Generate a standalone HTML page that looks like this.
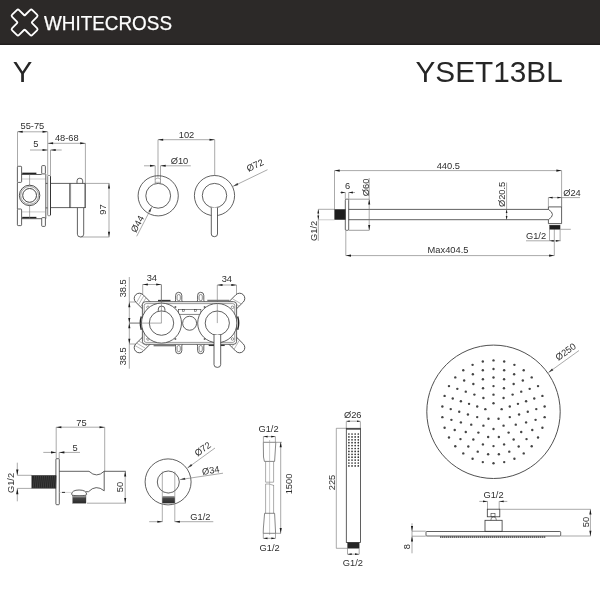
<!DOCTYPE html>
<html><head><meta charset="utf-8"><style>
html,body{margin:0;padding:0;background:#fff;width:600px;height:600px;overflow:hidden}
svg{display:block;will-change:transform}
text{font-family:"Liberation Sans",sans-serif}
</style></head><body>
<svg width="600" height="600" viewBox="0 0 600 600">
<rect width="600" height="600" fill="#fff"/>
<rect x="0" y="0" width="600" height="45" fill="#2c2928"/><rect x="0" y="43.6" width="600" height="1.2" fill="#1f1c1c"/>
<path d="M-4.90,-12.70 Q-4.90,-14.30 -3.30,-14.30 L3.30,-14.30 Q4.90,-14.30 4.90,-12.70 L4.90,-5.70 Q4.90,-4.90 5.70,-4.90 L12.70,-4.90 Q14.30,-4.90 14.30,-3.30 L14.30,3.30 Q14.30,4.90 12.70,4.90 L5.70,4.90 Q4.90,4.90 4.90,5.70 L4.90,12.70 Q4.90,14.30 3.30,14.30 L-3.30,14.30 Q-4.90,14.30 -4.90,12.70 L-4.90,5.70 Q-4.90,4.90 -5.70,4.90 L-12.70,4.90 Q-14.30,4.90 -14.30,3.30 L-14.30,-3.30 Q-14.30,-4.90 -12.70,-4.90 L-5.70,-4.90 Q-4.90,-4.90 -4.90,-5.70 Z" transform="translate(24.6 22.5) rotate(45)" fill="none" stroke="#fff" stroke-width="1.8" stroke-linejoin="round"/>
<text x="44" y="29.8" font-size="20.5" fill="#fff" stroke="#fff" stroke-width="0.25" textLength="128" lengthAdjust="spacingAndGlyphs">WHITECROSS</text>
<text x="12.8" y="82.1" font-size="29.8" fill="#262626" textLength="19.6" lengthAdjust="spacingAndGlyphs">Y</text>
<text x="415.5" y="82.1" font-size="29.8" fill="#262626" textLength="147.2" lengthAdjust="spacingAndGlyphs">YSET13BL</text>
<text x="32.40" y="128.70" font-size="9.3" text-anchor="middle" fill="#2e2e2e" >55-75</text>
<line x1="17.50" y1="131.80" x2="47.70" y2="131.80" stroke="#707070" stroke-width="0.6" />
<path d="M17.50,131.80 L22.70,130.75 L22.70,132.85 Z" fill="#1a1a1a"/>
<path d="M47.70,131.80 L42.50,132.85 L42.50,130.75 Z" fill="#1a1a1a"/>
<line x1="17.50" y1="131.80" x2="17.50" y2="166.30" stroke="#707070" stroke-width="0.6" />
<line x1="47.70" y1="131.80" x2="47.70" y2="175.50" stroke="#707070" stroke-width="0.6" />
<text x="66.80" y="140.80" font-size="9.3" text-anchor="middle" fill="#2e2e2e" >48-68</text>
<line x1="47.90" y1="143.30" x2="85.40" y2="143.30" stroke="#707070" stroke-width="0.6" />
<path d="M47.90,143.30 L53.10,142.25 L53.10,144.35 Z" fill="#1a1a1a"/>
<path d="M85.40,143.30 L80.20,144.35 L80.20,142.25 Z" fill="#1a1a1a"/>
<line x1="85.40" y1="143.30" x2="85.40" y2="183.40" stroke="#707070" stroke-width="0.6" />
<text x="35.80" y="147.00" font-size="9.3" text-anchor="middle" fill="#2e2e2e" >5</text>
<line x1="30.00" y1="150.00" x2="47.70" y2="150.00" stroke="#707070" stroke-width="0.6" />
<path d="M47.70,150.00 L42.50,151.05 L42.50,148.95 Z" fill="#1a1a1a"/>
<line x1="50.50" y1="150.00" x2="61.70" y2="150.00" stroke="#707070" stroke-width="0.6" />
<path d="M50.50,150.00 L55.70,148.95 L55.70,151.05 Z" fill="#1a1a1a"/>
<line x1="50.50" y1="150.00" x2="50.50" y2="175.50" stroke="#707070" stroke-width="0.6" />
<rect x="17.40" y="166.30" width="4.20" height="16.10" rx="0.8" fill="none" stroke="#383838" stroke-width="0.8"/>
<rect x="17.40" y="209.00" width="4.20" height="16.60" rx="0.8" fill="none" stroke="#383838" stroke-width="0.8"/>
<line x1="17.40" y1="182.40" x2="17.40" y2="209.00" stroke="#383838" stroke-width="0.8" />
<rect x="41.70" y="165.60" width="3.70" height="8.30" rx="0.8" fill="none" stroke="#383838" stroke-width="0.8"/>
<rect x="41.70" y="217.60" width="3.70" height="8.80" rx="0.8" fill="none" stroke="#383838" stroke-width="0.8"/>
<line x1="21.60" y1="174.50" x2="41.70" y2="174.50" stroke="#383838" stroke-width="0.8" />
<line x1="22.20" y1="173.40" x2="36.40" y2="173.40" stroke="#222" stroke-width="1.5" />
<line x1="21.60" y1="179.00" x2="45.80" y2="179.00" stroke="#999" stroke-width="0.5" />
<line x1="45.80" y1="174.00" x2="45.80" y2="218.70" stroke="#383838" stroke-width="0.8" />
<line x1="21.60" y1="218.70" x2="41.70" y2="218.70" stroke="#383838" stroke-width="0.8" />
<line x1="22.20" y1="217.60" x2="36.40" y2="217.60" stroke="#222" stroke-width="1.5" />
<line x1="21.60" y1="211.90" x2="45.80" y2="211.90" stroke="#999" stroke-width="0.5" />
<line x1="29.60" y1="174.50" x2="29.60" y2="185.20" stroke="#707070" stroke-width="0.6" />
<line x1="29.60" y1="205.60" x2="29.60" y2="218.70" stroke="#707070" stroke-width="0.6" />
<circle cx="29.60" cy="195.40" r="10.20" fill="none" stroke="#383838" stroke-width="0.9"/>
<circle cx="29.60" cy="195.40" r="8.90" fill="none" stroke="#666" stroke-width="0.6"/>
<circle cx="29.60" cy="195.40" r="6.90" fill="none" stroke="#383838" stroke-width="0.95"/>
<line x1="45.80" y1="183.40" x2="47.70" y2="183.40" stroke="#383838" stroke-width="0.8" />
<line x1="45.80" y1="207.90" x2="47.70" y2="207.90" stroke="#383838" stroke-width="0.8" />
<rect x="47.70" y="175.50" width="2.80" height="40.20" rx="0.8" fill="none" stroke="#666" stroke-width="0.8"/>
<line x1="50.50" y1="176.30" x2="50.50" y2="215.00" stroke="#2a2a2a" stroke-width="0.9" />
<line x1="50.50" y1="183.40" x2="85.40" y2="183.40" stroke="#383838" stroke-width="0.8" />
<line x1="50.50" y1="207.60" x2="85.40" y2="207.60" stroke="#383838" stroke-width="0.8" />
<line x1="69.70" y1="183.40" x2="69.70" y2="207.90" stroke="#383838" stroke-width="0.8" />
<line x1="70.60" y1="183.40" x2="70.60" y2="207.90" stroke="#383838" stroke-width="0.5" />
<line x1="85.40" y1="183.40" x2="85.40" y2="207.90" stroke="#383838" stroke-width="0.8" />
<line x1="84.60" y1="183.40" x2="84.60" y2="207.90" stroke="#383838" stroke-width="0.4" />
<path d="M77,183.4 L77,180.8 A2.85,2.6 0 0 1 82.7,180.8 L82.7,183.4" fill="none" stroke="#383838" stroke-width="0.8" />
<path d="M77.4,207.9 L77.4,234.2 A3.15,2.8 0 0 0 83.7,234.2 L83.7,207.9" fill="none" stroke="#383838" stroke-width="0.8" />
<line x1="85.40" y1="183.40" x2="109.40" y2="183.40" stroke="#707070" stroke-width="0.6" />
<line x1="80.50" y1="237.00" x2="109.40" y2="237.00" stroke="#707070" stroke-width="0.6" />
<line x1="109.00" y1="183.40" x2="109.00" y2="237.00" stroke="#707070" stroke-width="0.6" />
<path d="M109.00,183.40 L110.05,188.60 L107.95,188.60 Z" fill="#1a1a1a"/>
<path d="M109.00,237.00 L107.95,231.80 L110.05,231.80 Z" fill="#1a1a1a"/>
<text x="102.50" y="209.50" font-size="9.3" text-anchor="middle" fill="#2e2e2e" transform="rotate(-90 102.50 209.50)" dominant-baseline="central">97</text>
<text x="186.50" y="137.50" font-size="9.3" text-anchor="middle" fill="#2e2e2e" >102</text>
<line x1="158.00" y1="139.70" x2="214.70" y2="139.70" stroke="#707070" stroke-width="0.6" />
<path d="M158.00,139.70 L163.20,138.65 L163.20,140.75 Z" fill="#1a1a1a"/>
<path d="M214.70,139.70 L209.50,140.75 L209.50,138.65 Z" fill="#1a1a1a"/>
<line x1="158.00" y1="139.70" x2="158.00" y2="177.50" stroke="#707070" stroke-width="0.6" />
<line x1="214.70" y1="139.70" x2="214.70" y2="175.50" stroke="#707070" stroke-width="0.6" />
<text x="179.50" y="164.20" font-size="9.3" text-anchor="middle" fill="#2e2e2e" >Ø10</text>
<line x1="144.00" y1="165.80" x2="155.20" y2="165.80" stroke="#707070" stroke-width="0.6" />
<path d="M155.20,165.80 L150.00,166.85 L150.00,164.75 Z" fill="#1a1a1a"/>
<line x1="160.50" y1="165.80" x2="190.80" y2="165.80" stroke="#707070" stroke-width="0.6" />
<path d="M160.50,165.80 L165.70,164.75 L165.70,166.85 Z" fill="#1a1a1a"/>
<line x1="155.20" y1="165.80" x2="155.20" y2="183.50" stroke="#707070" stroke-width="0.6" />
<line x1="160.50" y1="165.80" x2="160.50" y2="183.50" stroke="#707070" stroke-width="0.6" />
<path d="M155.2,179.8 Q155.2,178.2 157.85,178.2 Q160.5,178.2 160.5,179.8" fill="none" stroke="#777" stroke-width="0.5" />
<line x1="155.20" y1="182.30" x2="160.50" y2="182.30" stroke="#707070" stroke-width="0.5" />
<circle cx="158.20" cy="195.80" r="20.10" fill="none" stroke="#383838" stroke-width="0.8"/>
<circle cx="158.20" cy="195.80" r="12.40" fill="none" stroke="#383838" stroke-width="0.8"/>
<path d="M151.70,207.20 L150.21,212.29 L148.35,211.32 Z" fill="#1a1a1a"/>
<line x1="151.70" y1="207.20" x2="136.70" y2="236.30" stroke="#707070" stroke-width="0.6" />
<text x="140.20" y="225.50" font-size="9.3" text-anchor="middle" fill="#2e2e2e" transform="rotate(-62.3 140.20 225.50)" >Ø44</text>
<circle cx="214.50" cy="195.60" r="20.10" fill="none" stroke="#383838" stroke-width="0.8"/>
<circle cx="214.50" cy="195.60" r="12.20" fill="none" stroke="#383838" stroke-width="0.8"/>
<path d="M211.3,207.6 L211.3,234 A3.1,2.7 0 0 0 217.5,234 L217.5,207.6" fill="#fff" stroke="#383838" stroke-width="0.8" />
<path d="M233.20,186.30 L237.43,183.10 L238.34,184.99 Z" fill="#1a1a1a"/>
<line x1="233.20" y1="186.30" x2="267.50" y2="169.70" stroke="#707070" stroke-width="0.6" />
<text x="256.50" y="168.20" font-size="9.3" text-anchor="middle" fill="#2e2e2e" transform="rotate(-25.7 256.50 168.20)" >Ø72</text>
<text x="448.30" y="169.00" font-size="9.3" text-anchor="middle" fill="#2e2e2e" >440.5</text>
<line x1="334.50" y1="170.60" x2="561.60" y2="170.60" stroke="#707070" stroke-width="0.6" />
<path d="M334.50,170.60 L339.70,169.55 L339.70,171.65 Z" fill="#1a1a1a"/>
<path d="M561.60,170.60 L556.40,171.65 L556.40,169.55 Z" fill="#1a1a1a"/>
<line x1="334.50" y1="170.60" x2="334.50" y2="209.30" stroke="#707070" stroke-width="0.6" />
<line x1="561.60" y1="170.60" x2="561.60" y2="206.90" stroke="#707070" stroke-width="0.6" />
<rect x="334.50" y="209.30" width="11.00" height="10.40" rx="0" fill="#1e1e1e" stroke="#383838" stroke-width="0.3"/>
<rect x="345.30" y="199.20" width="3.40" height="31.10" rx="1" fill="none" stroke="#383838" stroke-width="0.8"/>
<line x1="348.70" y1="199.20" x2="369.20" y2="199.20" stroke="#777" stroke-width="0.7" />
<line x1="348.70" y1="230.30" x2="369.20" y2="230.30" stroke="#777" stroke-width="0.7" />
<line x1="348.70" y1="209.40" x2="548.40" y2="209.40" stroke="#383838" stroke-width="0.8" />
<line x1="348.70" y1="219.70" x2="548.40" y2="219.70" stroke="#383838" stroke-width="0.8" />
<text x="347.50" y="188.80" font-size="9.3" text-anchor="middle" fill="#2e2e2e" >6</text>
<line x1="340.00" y1="192.50" x2="345.30" y2="192.50" stroke="#707070" stroke-width="0.6" />
<path d="M345.30,192.50 L341.10,193.40 L341.10,191.60 Z" fill="#1a1a1a"/>
<line x1="348.70" y1="192.50" x2="355.00" y2="192.50" stroke="#707070" stroke-width="0.6" />
<path d="M348.70,192.50 L352.90,191.60 L352.90,193.40 Z" fill="#1a1a1a"/>
<line x1="345.30" y1="192.50" x2="345.30" y2="199.20" stroke="#707070" stroke-width="0.6" />
<line x1="348.70" y1="192.50" x2="348.70" y2="199.20" stroke="#707070" stroke-width="0.6" />
<line x1="369.20" y1="199.20" x2="369.20" y2="230.30" stroke="#707070" stroke-width="0.6" />
<path d="M369.20,199.20 L370.25,204.40 L368.15,204.40 Z" fill="#1a1a1a"/>
<path d="M369.20,230.30 L368.15,225.10 L370.25,225.10 Z" fill="#1a1a1a"/>
<line x1="369.20" y1="178.00" x2="369.20" y2="199.20" stroke="#707070" stroke-width="0.6" />
<text x="366.00" y="187.40" font-size="9.3" text-anchor="middle" fill="#2e2e2e" transform="rotate(-90 366.00 187.40)" dominant-baseline="central">Ø60</text>
<line x1="318.30" y1="209.30" x2="334.50" y2="209.30" stroke="#707070" stroke-width="0.6" />
<line x1="318.30" y1="219.80" x2="334.50" y2="219.80" stroke="#aaa" stroke-width="0.6" />
<line x1="318.30" y1="209.30" x2="318.30" y2="240.80" stroke="#707070" stroke-width="0.6" />
<path d="M318.30,209.30 L319.20,213.50 L317.40,213.50 Z" fill="#1a1a1a"/>
<path d="M318.30,219.80 L317.40,215.60 L319.20,215.60 Z" fill="#1a1a1a"/>
<text x="314.00" y="230.80" font-size="9.3" text-anchor="middle" fill="#2e2e2e" transform="rotate(-90 314.00 230.80)" dominant-baseline="central">G1/2</text>
<text x="448.00" y="253.20" font-size="9.3" text-anchor="middle" fill="#2e2e2e" >Max404.5</text>
<line x1="345.80" y1="255.60" x2="554.30" y2="255.60" stroke="#707070" stroke-width="0.6" />
<path d="M345.80,255.60 L351.00,254.55 L351.00,256.65 Z" fill="#1a1a1a"/>
<path d="M554.30,255.60 L549.10,256.65 L549.10,254.55 Z" fill="#1a1a1a"/>
<line x1="345.80" y1="230.30" x2="345.80" y2="255.60" stroke="#707070" stroke-width="0.6" />
<line x1="554.30" y1="229.30" x2="554.30" y2="255.60" stroke="#707070" stroke-width="0.6" />
<line x1="506.60" y1="182.50" x2="506.60" y2="219.80" stroke="#707070" stroke-width="0.6" />
<path d="M506.60,209.40 L507.45,213.00 L505.75,213.00 Z" fill="#1a1a1a"/>
<path d="M506.60,219.70 L505.75,216.10 L507.45,216.10 Z" fill="#1a1a1a"/>
<text x="502.10" y="194.40" font-size="9.3" text-anchor="middle" fill="#2e2e2e" transform="rotate(-90 502.10 194.40)" dominant-baseline="central">Ø20.5</text>
<path d="M548.4,209.4 L548.4,206.9 L561.6,206.9 L561.6,223.6 L548.4,223.6 L548.4,219.7 M548.4,209.4 Q556.5,214.5 548.4,219.7" fill="none" stroke="#383838" stroke-width="0.8" />
<rect x="549.50" y="225.10" width="10.60" height="4.30" rx="0" fill="#1e1e1e" stroke="#383838" stroke-width="0.3"/>
<line x1="560.20" y1="229.30" x2="570.80" y2="229.30" stroke="#707070" stroke-width="0.6" />
<text x="572.00" y="195.70" font-size="9.3" text-anchor="middle" fill="#2e2e2e" >Ø24</text>
<line x1="548.40" y1="197.60" x2="580.00" y2="197.60" stroke="#707070" stroke-width="0.6" />
<path d="M548.40,197.60 L552.60,196.70 L552.60,198.50 Z" fill="#1a1a1a"/>
<path d="M561.60,197.60 L557.40,198.50 L557.40,196.70 Z" fill="#1a1a1a"/>
<line x1="548.40" y1="197.60" x2="548.40" y2="206.90" stroke="#707070" stroke-width="0.6" />
<line x1="561.60" y1="197.60" x2="561.60" y2="206.90" stroke="#707070" stroke-width="0.6" />
<text x="536.00" y="239.00" font-size="9.3" text-anchor="middle" fill="#2e2e2e" >G1/2</text>
<line x1="526.00" y1="240.80" x2="560.60" y2="240.80" stroke="#707070" stroke-width="0.6" />
<path d="M549.50,240.80 L553.70,239.90 L553.70,241.70 Z" fill="#1a1a1a"/>
<path d="M560.10,240.80 L555.90,241.70 L555.90,239.90 Z" fill="#1a1a1a"/>
<line x1="549.50" y1="229.40" x2="549.50" y2="240.80" stroke="#707070" stroke-width="0.6" />
<line x1="560.10" y1="229.40" x2="560.10" y2="240.80" stroke="#707070" stroke-width="0.6" />
<text x="123.50" y="288.30" font-size="9.3" text-anchor="middle" fill="#2e2e2e" transform="rotate(-90 123.50 288.30)" dominant-baseline="central">38.5</text>
<text x="123.50" y="356.30" font-size="9.3" text-anchor="middle" fill="#2e2e2e" transform="rotate(-90 123.50 356.30)" dominant-baseline="central">38.5</text>
<line x1="129.30" y1="277.00" x2="129.30" y2="368.70" stroke="#707070" stroke-width="0.6" />
<path d="M129.30,302.00 L130.35,307.20 L128.25,307.20 Z" fill="#1a1a1a"/>
<path d="M129.30,323.10 L128.25,317.90 L130.35,317.90 Z" fill="#1a1a1a"/>
<path d="M129.30,323.10 L130.35,328.30 L128.25,328.30 Z" fill="#1a1a1a"/>
<path d="M129.30,344.00 L128.25,338.80 L130.35,338.80 Z" fill="#1a1a1a"/>
<line x1="129.30" y1="302.00" x2="142.50" y2="302.00" stroke="#707070" stroke-width="0.6" />
<line x1="129.30" y1="323.10" x2="161.50" y2="323.10" stroke="#707070" stroke-width="0.6" />
<line x1="129.30" y1="344.00" x2="142.50" y2="344.00" stroke="#707070" stroke-width="0.6" />
<text x="151.80" y="280.70" font-size="9.3" text-anchor="middle" fill="#2e2e2e" >34</text>
<line x1="142.70" y1="284.50" x2="161.40" y2="284.50" stroke="#707070" stroke-width="0.6" />
<path d="M142.70,284.50 L147.90,283.45 L147.90,285.55 Z" fill="#1a1a1a"/>
<path d="M161.40,284.50 L156.20,285.55 L156.20,283.45 Z" fill="#1a1a1a"/>
<line x1="142.70" y1="284.50" x2="142.70" y2="301.50" stroke="#707070" stroke-width="0.6" />
<line x1="161.40" y1="284.50" x2="161.40" y2="323.10" stroke="#707070" stroke-width="0.6" />
<text x="226.80" y="281.70" font-size="9.3" text-anchor="middle" fill="#2e2e2e" >34</text>
<line x1="217.30" y1="285.00" x2="236.50" y2="285.00" stroke="#707070" stroke-width="0.6" />
<path d="M217.30,285.00 L222.50,283.95 L222.50,286.05 Z" fill="#1a1a1a"/>
<path d="M236.50,285.00 L231.30,286.05 L231.30,283.95 Z" fill="#1a1a1a"/>
<line x1="217.30" y1="285.00" x2="217.30" y2="323.10" stroke="#707070" stroke-width="0.6" />
<line x1="236.50" y1="285.00" x2="236.50" y2="301.50" stroke="#707070" stroke-width="0.6" />
<g transform="translate(142.8 301.8) rotate(45)"><rect x="-10" y="-5.2" width="20" height="10.4" rx="5.2" fill="#fff" stroke="#383838" stroke-width="0.8"/><line x1="-6.5" y1="-4.6" x2="-4" y2="4.6" stroke="#777" stroke-width="0.5"/><line x1="-3.5" y1="-4.8" x2="-1" y2="4.8" stroke="#777" stroke-width="0.5"/><line x1="-0.5" y1="-4.8" x2="2" y2="4.8" stroke="#777" stroke-width="0.5"/></g>
<g transform="translate(236.2 301.8) rotate(-45)"><rect x="-10" y="-5.2" width="20" height="10.4" rx="5.2" fill="#fff" stroke="#383838" stroke-width="0.8"/><line x1="-6.5" y1="-4.6" x2="-4" y2="4.6" stroke="#777" stroke-width="0.5"/><line x1="-3.5" y1="-4.8" x2="-1" y2="4.8" stroke="#777" stroke-width="0.5"/><line x1="-0.5" y1="-4.8" x2="2" y2="4.8" stroke="#777" stroke-width="0.5"/></g>
<g transform="translate(142.8 344.2) rotate(-45)"><rect x="-10" y="-5.2" width="20" height="10.4" rx="5.2" fill="#fff" stroke="#383838" stroke-width="0.8"/><line x1="-6.5" y1="-4.6" x2="-4" y2="4.6" stroke="#777" stroke-width="0.5"/><line x1="-3.5" y1="-4.8" x2="-1" y2="4.8" stroke="#777" stroke-width="0.5"/><line x1="-0.5" y1="-4.8" x2="2" y2="4.8" stroke="#777" stroke-width="0.5"/></g>
<g transform="translate(236.2 344.2) rotate(45)"><rect x="-10" y="-5.2" width="20" height="10.4" rx="5.2" fill="#fff" stroke="#383838" stroke-width="0.8"/><line x1="-6.5" y1="-4.6" x2="-4" y2="4.6" stroke="#777" stroke-width="0.5"/><line x1="-3.5" y1="-4.8" x2="-1" y2="4.8" stroke="#777" stroke-width="0.5"/><line x1="-0.5" y1="-4.8" x2="2" y2="4.8" stroke="#777" stroke-width="0.5"/></g>
<path d="M175.0,301.7 Q175.6,301.3 175.6,299.8 L175.6,295.40000000000003 A3.1,3.1 0 0 1 181.79999999999998,295.40000000000003 L181.79999999999998,299.8 Q181.79999999999998,301.3 182.4,301.7" fill="none" stroke="#383838" stroke-width="0.8" />
<rect x="177.10" y="294.50" width="3.20" height="6.20" rx="1.6" fill="none" stroke="#383838" stroke-width="0.55"/>
<path d="M175.0,344.3 Q175.6,344.7 175.6,346.2 L175.6,350.6 A3.1,3.1 0 0 0 181.79999999999998,350.6 L181.79999999999998,346.2 Q181.79999999999998,344.7 182.4,344.3" fill="none" stroke="#383838" stroke-width="0.8" />
<rect x="177.10" y="345.50" width="3.20" height="6.20" rx="1.6" fill="none" stroke="#383838" stroke-width="0.55"/>
<path d="M197.0,301.7 Q197.6,301.3 197.6,299.8 L197.6,295.40000000000003 A3.1,3.1 0 0 1 203.79999999999998,295.40000000000003 L203.79999999999998,299.8 Q203.79999999999998,301.3 204.4,301.7" fill="none" stroke="#383838" stroke-width="0.8" />
<rect x="199.10" y="294.50" width="3.20" height="6.20" rx="1.6" fill="none" stroke="#383838" stroke-width="0.55"/>
<path d="M197.0,344.3 Q197.6,344.7 197.6,346.2 L197.6,350.6 A3.1,3.1 0 0 0 203.79999999999998,350.6 L203.79999999999998,346.2 Q203.79999999999998,344.7 204.4,344.3" fill="none" stroke="#383838" stroke-width="0.8" />
<rect x="199.10" y="345.50" width="3.20" height="6.20" rx="1.6" fill="none" stroke="#383838" stroke-width="0.55"/>
<line x1="158.00" y1="300.60" x2="170.50" y2="300.60" stroke="#333" stroke-width="1.5" />
<line x1="207.30" y1="300.50" x2="229.30" y2="300.50" stroke="#777" stroke-width="1.5" />
<line x1="153.60" y1="345.60" x2="174.90" y2="345.60" stroke="#777" stroke-width="1.5" />
<line x1="208.70" y1="345.30" x2="224.70" y2="345.30" stroke="#333" stroke-width="1.5" />
<rect x="142.40" y="301.70" width="94.20" height="42.60" rx="3" fill="#fff" stroke="#383838" stroke-width="0.8"/>
<rect x="144.20" y="303.60" width="90.60" height="38.80" rx="2" fill="none" stroke="#383838" stroke-width="0.5"/>
<path d="M141.3,316.5 Q139.3,323.1 141.3,329.7" fill="none" stroke="#222" stroke-width="1.4" />
<path d="M237.7,316.5 Q239.7,323.1 237.7,329.7" fill="none" stroke="#222" stroke-width="1.4" />
<rect x="178.40" y="309.40" width="22.50" height="4.85" rx="0" fill="none" stroke="#383838" stroke-width="0.6"/>
<rect x="182.60" y="309.60" width="1.70" height="1.60" rx="0" fill="none" stroke="#383838" stroke-width="0.5"/>
<rect x="194.60" y="309.60" width="1.70" height="1.60" rx="0" fill="none" stroke="#383838" stroke-width="0.5"/>
<circle cx="189.60" cy="323.25" r="7.00" fill="none" stroke="#383838" stroke-width="0.8"/>
<circle cx="175.40" cy="307.10" r="1.00" fill="#666" stroke="#383838" stroke-width="0"/>
<circle cx="204.60" cy="307.10" r="1.00" fill="#666" stroke="#383838" stroke-width="0"/>
<circle cx="175.40" cy="338.90" r="1.00" fill="#666" stroke="#383838" stroke-width="0"/>
<circle cx="204.60" cy="338.90" r="1.00" fill="#666" stroke="#383838" stroke-width="0"/>
<circle cx="148.00" cy="307.30" r="1.30" fill="none" stroke="#383838" stroke-width="0.5"/>
<circle cx="232.50" cy="307.30" r="1.30" fill="none" stroke="#383838" stroke-width="0.5"/>
<circle cx="148.00" cy="339.00" r="1.30" fill="none" stroke="#383838" stroke-width="0.5"/>
<circle cx="232.50" cy="339.00" r="1.30" fill="none" stroke="#383838" stroke-width="0.5"/>
<circle cx="161.50" cy="323.10" r="20.00" fill="#fff" stroke="#383838" stroke-width="0.8"/>
<circle cx="161.50" cy="323.10" r="12.20" fill="none" stroke="#383838" stroke-width="0.8"/>
<circle cx="217.30" cy="323.10" r="19.60" fill="#fff" stroke="#383838" stroke-width="0.8"/>
<circle cx="217.30" cy="323.10" r="12.10" fill="none" stroke="#383838" stroke-width="0.8"/>
<path d="M158.3,310.9 L158.3,309 A3.3,2.9 0 0 1 164.9,309 L164.9,310.9" fill="none" stroke="#383838" stroke-width="0.8" />
<line x1="161.40" y1="285.00" x2="161.40" y2="323.10" stroke="#707070" stroke-width="0.6" />
<line x1="129.30" y1="323.10" x2="161.50" y2="323.10" stroke="#707070" stroke-width="0.6" />
<line x1="217.30" y1="303.50" x2="217.30" y2="323.10" stroke="#707070" stroke-width="0.6" />
<path d="M214,335 L214,364.6 A3.35,2.8 0 0 0 220.7,364.6 L220.7,335" fill="#fff" stroke="#383838" stroke-width="0.8" />
<text x="81.50" y="425.80" font-size="9.3" text-anchor="middle" fill="#2e2e2e" >75</text>
<line x1="56.20" y1="427.20" x2="104.70" y2="427.20" stroke="#707070" stroke-width="0.6" />
<path d="M56.20,427.20 L61.40,426.15 L61.40,428.25 Z" fill="#1a1a1a"/>
<path d="M104.70,427.20 L99.50,428.25 L99.50,426.15 Z" fill="#1a1a1a"/>
<line x1="56.20" y1="427.20" x2="56.20" y2="458.70" stroke="#707070" stroke-width="0.6" />
<line x1="104.70" y1="427.20" x2="104.70" y2="471.50" stroke="#707070" stroke-width="0.6" />
<text x="75.20" y="450.50" font-size="9.3" text-anchor="middle" fill="#2e2e2e" >5</text>
<line x1="43.30" y1="452.40" x2="56.20" y2="452.40" stroke="#707070" stroke-width="0.6" />
<path d="M56.20,452.40 L51.00,453.45 L51.00,451.35 Z" fill="#1a1a1a"/>
<line x1="59.20" y1="452.40" x2="80.00" y2="452.40" stroke="#707070" stroke-width="0.6" />
<path d="M59.20,452.40 L64.40,451.35 L64.40,453.45 Z" fill="#1a1a1a"/>
<line x1="59.20" y1="452.40" x2="59.20" y2="458.70" stroke="#707070" stroke-width="0.6" />
<rect x="55.90" y="458.70" width="3.40" height="46.00" rx="0.8" fill="none" stroke="#383838" stroke-width="0.8"/>
<rect x="31.70" y="475.30" width="24.30" height="13.10" rx="0" fill="#262626" stroke="#383838" stroke-width="0.3"/>
<line x1="33.20" y1="488.00" x2="34.60" y2="475.70" stroke="#5a5a5a" stroke-width="0.45" />
<line x1="35.20" y1="488.00" x2="36.60" y2="475.70" stroke="#5a5a5a" stroke-width="0.45" />
<line x1="37.20" y1="488.00" x2="38.60" y2="475.70" stroke="#5a5a5a" stroke-width="0.45" />
<line x1="39.20" y1="488.00" x2="40.60" y2="475.70" stroke="#5a5a5a" stroke-width="0.45" />
<line x1="41.20" y1="488.00" x2="42.60" y2="475.70" stroke="#5a5a5a" stroke-width="0.45" />
<line x1="43.20" y1="488.00" x2="44.60" y2="475.70" stroke="#5a5a5a" stroke-width="0.45" />
<line x1="45.20" y1="488.00" x2="46.60" y2="475.70" stroke="#5a5a5a" stroke-width="0.45" />
<line x1="47.20" y1="488.00" x2="48.60" y2="475.70" stroke="#5a5a5a" stroke-width="0.45" />
<line x1="49.20" y1="488.00" x2="50.60" y2="475.70" stroke="#5a5a5a" stroke-width="0.45" />
<line x1="51.20" y1="488.00" x2="52.60" y2="475.70" stroke="#5a5a5a" stroke-width="0.45" />
<line x1="53.20" y1="488.00" x2="54.60" y2="475.70" stroke="#5a5a5a" stroke-width="0.45" />
<line x1="55.20" y1="488.00" x2="56.60" y2="475.70" stroke="#5a5a5a" stroke-width="0.45" />
<line x1="17.30" y1="475.30" x2="31.70" y2="475.30" stroke="#707070" stroke-width="0.6" />
<line x1="17.30" y1="488.40" x2="31.70" y2="488.40" stroke="#707070" stroke-width="0.6" />
<line x1="17.30" y1="462.70" x2="17.30" y2="475.30" stroke="#707070" stroke-width="0.6" />
<line x1="17.30" y1="488.40" x2="17.30" y2="501.30" stroke="#707070" stroke-width="0.6" />
<path d="M17.30,475.30 L16.15,469.50 L18.45,469.50 Z" fill="#1a1a1a"/>
<path d="M17.30,488.40 L18.45,494.20 L16.15,494.20 Z" fill="#1a1a1a"/>
<text x="11.30" y="483.00" font-size="9.3" text-anchor="middle" fill="#2e2e2e" transform="rotate(-90 11.30 483.00)" dominant-baseline="central">G1/2</text>
<path d="M59.3,471.3 L89,471.3 Q96.6,478.5 104.2,471.3 L125.8,471.3" fill="none" stroke="#383838" stroke-width="0.8" />
<path d="M104.2,471.3 L104.2,490.8 Q96,484 88.5,491.7 L85.8,491.7" fill="none" stroke="#383838" stroke-width="0.8" />
<line x1="59.30" y1="492.40" x2="71.50" y2="492.40" stroke="#bbb" stroke-width="0.6" />
<line x1="62.00" y1="492.40" x2="65.00" y2="492.40" stroke="#333" stroke-width="1" />
<path d="M71.5,494.3 Q72,490 79.1,490 Q86.2,490 86.7,494.3 Q86,495.8 79.1,495.8 Q72.2,495.8 71.5,494.3 Z" fill="none" stroke="#383838" stroke-width="0.8" />
<rect x="72.70" y="495.80" width="13.30" height="7.40" rx="0" fill="url(#thg)" stroke="#383838" stroke-width="0.3"/>
<line x1="87.00" y1="503.20" x2="125.80" y2="503.20" stroke="#707070" stroke-width="0.6" />
<line x1="125.20" y1="471.30" x2="125.20" y2="503.20" stroke="#707070" stroke-width="0.6" />
<path d="M125.20,471.30 L126.25,476.50 L124.15,476.50 Z" fill="#1a1a1a"/>
<path d="M125.20,503.20 L124.15,498.00 L126.25,498.00 Z" fill="#1a1a1a"/>
<text x="120.30" y="487.00" font-size="9.3" text-anchor="middle" fill="#2e2e2e" transform="rotate(-90 120.30 487.00)" dominant-baseline="central">50</text>
<circle cx="168.10" cy="481.90" r="23.00" fill="none" stroke="#383838" stroke-width="0.8"/>
<circle cx="168.30" cy="482.00" r="11.00" fill="none" stroke="#383838" stroke-width="0.8"/>
<line x1="162.30" y1="471.50" x2="162.30" y2="521.70" stroke="#777" stroke-width="0.6" />
<line x1="174.80" y1="471.50" x2="174.80" y2="521.70" stroke="#777" stroke-width="0.6" />
<defs><linearGradient id="thg" x1="0" y1="0" x2="0" y2="1"><stop offset="0" stop-color="#aaa"/><stop offset="0.35" stop-color="#444"/><stop offset="1" stop-color="#2a2a2a"/></linearGradient></defs>
<rect x="162.30" y="496.00" width="12.50" height="7.30" rx="0" fill="url(#thg)" stroke="#383838" stroke-width="0"/>
<path d="M162.3,491.6 Q168.5,494.5 174.8,491.6" fill="none" stroke="#999" stroke-width="0.5" />
<line x1="162.30" y1="503.50" x2="174.80" y2="503.50" stroke="#aaa" stroke-width="0.6" />
<path d="M187.50,468.00 L191.09,464.09 L192.32,465.79 Z" fill="#1a1a1a"/>
<line x1="187.50" y1="468.00" x2="215.00" y2="448.00" stroke="#707070" stroke-width="0.6" />
<text x="204.60" y="451.60" font-size="9.3" text-anchor="middle" fill="#2e2e2e" transform="rotate(-36 204.60 451.60)" >Ø72</text>
<path d="M180.00,479.60 L184.97,477.76 L185.30,479.83 Z" fill="#1a1a1a"/>
<line x1="180.00" y1="479.60" x2="223.00" y2="473.20" stroke="#707070" stroke-width="0.6" />
<text x="211.30" y="473.60" font-size="9.3" text-anchor="middle" fill="#2e2e2e" transform="rotate(-8.9 211.30 473.60)" >Ø34</text>
<text x="200.40" y="520.00" font-size="9.3" text-anchor="middle" fill="#2e2e2e" >G1/2</text>
<line x1="149.20" y1="521.70" x2="162.50" y2="521.70" stroke="#707070" stroke-width="0.6" />
<path d="M162.50,521.70 L157.30,522.75 L157.30,520.65 Z" fill="#1a1a1a"/>
<line x1="174.70" y1="521.70" x2="213.30" y2="521.70" stroke="#707070" stroke-width="0.6" />
<path d="M174.70,521.70 L179.90,520.65 L179.90,522.75 Z" fill="#1a1a1a"/>
<text x="268.50" y="432.00" font-size="9.3" text-anchor="middle" fill="#2e2e2e" >G1/2</text>
<line x1="263.40" y1="436.60" x2="275.40" y2="436.60" stroke="#707070" stroke-width="0.6" />
<path d="M263.40,436.60 L267.60,435.70 L267.60,437.50 Z" fill="#1a1a1a"/>
<path d="M275.40,436.60 L271.20,437.50 L271.20,435.70 Z" fill="#1a1a1a"/>
<line x1="263.40" y1="436.60" x2="263.40" y2="442.00" stroke="#707070" stroke-width="0.6" />
<line x1="275.40" y1="436.60" x2="275.40" y2="442.00" stroke="#707070" stroke-width="0.6" />
<path d="M263.3,442.3 L275.8,442.3 L274.6,461.4 L264.4,461.4 L263.5,457 Z" fill="none" stroke="#555" stroke-width="0.7" />
<line x1="275.80" y1="442.30" x2="281.80" y2="442.30" stroke="#666" stroke-width="0.6" />
<line x1="265.60" y1="461.40" x2="265.60" y2="482.20" stroke="#888" stroke-width="0.7" />
<line x1="273.60" y1="461.40" x2="273.60" y2="482.20" stroke="#888" stroke-width="0.7" />
<line x1="265.60" y1="484.00" x2="265.60" y2="513.30" stroke="#888" stroke-width="0.7" />
<line x1="273.60" y1="485.00" x2="273.60" y2="513.30" stroke="#888" stroke-width="0.7" />
<line x1="269.60" y1="440.00" x2="269.60" y2="535.00" stroke="#999" stroke-width="0.5" />
<path d="M265.6,482.2 L269.6,482.2 L273.6,482.2" fill="none" stroke="#777" stroke-width="0.6" />
<path d="M265.6,484 L269.3,484 L273.9,485.5" fill="none" stroke="#777" stroke-width="0.6" />
<path d="M264.6,513.3 L274.6,513.3 L275.6,533.3 L263.2,533.3 L263.4,528 Z" fill="none" stroke="#555" stroke-width="0.7" />
<line x1="275.60" y1="533.30" x2="281.00" y2="533.30" stroke="#666" stroke-width="0.6" />
<line x1="280.70" y1="442.00" x2="280.70" y2="533.30" stroke="#707070" stroke-width="0.6" />
<path d="M280.70,442.00 L281.75,447.20 L279.65,447.20 Z" fill="#1a1a1a"/>
<path d="M280.70,533.30 L279.65,528.10 L281.75,528.10 Z" fill="#1a1a1a"/>
<text x="289.00" y="484.00" font-size="9.3" text-anchor="middle" fill="#2e2e2e" transform="rotate(-90 289.00 484.00)" dominant-baseline="central">1500</text>
<line x1="263.30" y1="538.30" x2="275.50" y2="538.30" stroke="#707070" stroke-width="0.6" />
<path d="M263.30,538.30 L267.50,537.40 L267.50,539.20 Z" fill="#1a1a1a"/>
<path d="M275.50,538.30 L271.30,539.20 L271.30,537.40 Z" fill="#1a1a1a"/>
<line x1="263.30" y1="533.30" x2="263.30" y2="538.30" stroke="#707070" stroke-width="0.6" />
<line x1="275.50" y1="533.30" x2="275.50" y2="538.30" stroke="#707070" stroke-width="0.6" />
<text x="269.60" y="550.80" font-size="9.3" text-anchor="middle" fill="#2e2e2e" >G1/2</text>
<text x="352.70" y="417.60" font-size="9.3" text-anchor="middle" fill="#2e2e2e" >Ø26</text>
<line x1="346.30" y1="421.20" x2="360.40" y2="421.20" stroke="#707070" stroke-width="0.6" />
<path d="M346.30,421.20 L349.70,420.45 L349.70,421.95 Z" fill="#1a1a1a"/>
<path d="M360.40,421.20 L357.00,421.95 L357.00,420.45 Z" fill="#1a1a1a"/>
<line x1="346.30" y1="421.60" x2="346.30" y2="428.30" stroke="#707070" stroke-width="0.6" />
<line x1="360.40" y1="421.60" x2="360.40" y2="428.30" stroke="#707070" stroke-width="0.6" />
<rect x="346.30" y="428.30" width="14.30" height="114.20" rx="0" fill="none" stroke="#383838" stroke-width="0.8"/>
<line x1="346.30" y1="429.00" x2="360.60" y2="429.00" stroke="#383838" stroke-width="1.3" />
<circle cx="348.90" cy="434.00" r="0.85" fill="#333" stroke="#383838" stroke-width="0"/>
<circle cx="352.03" cy="434.00" r="0.85" fill="#333" stroke="#383838" stroke-width="0"/>
<circle cx="355.16" cy="434.00" r="0.85" fill="#333" stroke="#383838" stroke-width="0"/>
<circle cx="358.29" cy="434.00" r="0.85" fill="#333" stroke="#383838" stroke-width="0"/>
<circle cx="348.90" cy="436.90" r="0.85" fill="#333" stroke="#383838" stroke-width="0"/>
<circle cx="352.03" cy="436.90" r="0.85" fill="#333" stroke="#383838" stroke-width="0"/>
<circle cx="355.16" cy="436.90" r="0.85" fill="#333" stroke="#383838" stroke-width="0"/>
<circle cx="358.29" cy="436.90" r="0.85" fill="#333" stroke="#383838" stroke-width="0"/>
<circle cx="348.90" cy="439.80" r="0.85" fill="#333" stroke="#383838" stroke-width="0"/>
<circle cx="352.03" cy="439.80" r="0.85" fill="#333" stroke="#383838" stroke-width="0"/>
<circle cx="355.16" cy="439.80" r="0.85" fill="#333" stroke="#383838" stroke-width="0"/>
<circle cx="358.29" cy="439.80" r="0.85" fill="#333" stroke="#383838" stroke-width="0"/>
<circle cx="348.90" cy="442.70" r="0.85" fill="#333" stroke="#383838" stroke-width="0"/>
<circle cx="352.03" cy="442.70" r="0.85" fill="#333" stroke="#383838" stroke-width="0"/>
<circle cx="355.16" cy="442.70" r="0.85" fill="#333" stroke="#383838" stroke-width="0"/>
<circle cx="358.29" cy="442.70" r="0.85" fill="#333" stroke="#383838" stroke-width="0"/>
<circle cx="348.90" cy="445.60" r="0.85" fill="#333" stroke="#383838" stroke-width="0"/>
<circle cx="352.03" cy="445.60" r="0.85" fill="#333" stroke="#383838" stroke-width="0"/>
<circle cx="355.16" cy="445.60" r="0.85" fill="#333" stroke="#383838" stroke-width="0"/>
<circle cx="358.29" cy="445.60" r="0.85" fill="#333" stroke="#383838" stroke-width="0"/>
<circle cx="348.90" cy="448.50" r="0.85" fill="#333" stroke="#383838" stroke-width="0"/>
<circle cx="352.03" cy="448.50" r="0.85" fill="#333" stroke="#383838" stroke-width="0"/>
<circle cx="355.16" cy="448.50" r="0.85" fill="#333" stroke="#383838" stroke-width="0"/>
<circle cx="358.29" cy="448.50" r="0.85" fill="#333" stroke="#383838" stroke-width="0"/>
<circle cx="348.90" cy="451.40" r="0.85" fill="#333" stroke="#383838" stroke-width="0"/>
<circle cx="352.03" cy="451.40" r="0.85" fill="#333" stroke="#383838" stroke-width="0"/>
<circle cx="355.16" cy="451.40" r="0.85" fill="#333" stroke="#383838" stroke-width="0"/>
<circle cx="358.29" cy="451.40" r="0.85" fill="#333" stroke="#383838" stroke-width="0"/>
<circle cx="348.90" cy="454.30" r="0.85" fill="#333" stroke="#383838" stroke-width="0"/>
<circle cx="352.03" cy="454.30" r="0.85" fill="#333" stroke="#383838" stroke-width="0"/>
<circle cx="355.16" cy="454.30" r="0.85" fill="#333" stroke="#383838" stroke-width="0"/>
<circle cx="358.29" cy="454.30" r="0.85" fill="#333" stroke="#383838" stroke-width="0"/>
<circle cx="348.90" cy="457.20" r="0.85" fill="#333" stroke="#383838" stroke-width="0"/>
<circle cx="352.03" cy="457.20" r="0.85" fill="#333" stroke="#383838" stroke-width="0"/>
<circle cx="355.16" cy="457.20" r="0.85" fill="#333" stroke="#383838" stroke-width="0"/>
<circle cx="358.29" cy="457.20" r="0.85" fill="#333" stroke="#383838" stroke-width="0"/>
<circle cx="348.90" cy="460.10" r="0.85" fill="#333" stroke="#383838" stroke-width="0"/>
<circle cx="352.03" cy="460.10" r="0.85" fill="#333" stroke="#383838" stroke-width="0"/>
<circle cx="355.16" cy="460.10" r="0.85" fill="#333" stroke="#383838" stroke-width="0"/>
<circle cx="358.29" cy="460.10" r="0.85" fill="#333" stroke="#383838" stroke-width="0"/>
<circle cx="348.90" cy="463.00" r="0.85" fill="#333" stroke="#383838" stroke-width="0"/>
<circle cx="352.03" cy="463.00" r="0.85" fill="#333" stroke="#383838" stroke-width="0"/>
<circle cx="355.16" cy="463.00" r="0.85" fill="#333" stroke="#383838" stroke-width="0"/>
<circle cx="358.29" cy="463.00" r="0.85" fill="#333" stroke="#383838" stroke-width="0"/>
<circle cx="348.90" cy="465.90" r="0.85" fill="#333" stroke="#383838" stroke-width="0"/>
<circle cx="352.03" cy="465.90" r="0.85" fill="#333" stroke="#383838" stroke-width="0"/>
<circle cx="355.16" cy="465.90" r="0.85" fill="#333" stroke="#383838" stroke-width="0"/>
<circle cx="358.29" cy="465.90" r="0.85" fill="#333" stroke="#383838" stroke-width="0"/>
<rect x="347.50" y="542.50" width="11.70" height="5.80" rx="0" fill="#262626" stroke="#383838" stroke-width="0.3"/>
<line x1="336.30" y1="428.30" x2="346.30" y2="428.30" stroke="#707070" stroke-width="0.6" />
<line x1="336.30" y1="548.30" x2="347.50" y2="548.30" stroke="#707070" stroke-width="0.6" />
<line x1="336.30" y1="428.30" x2="336.30" y2="548.30" stroke="#707070" stroke-width="0.6" />
<text x="332.00" y="482.50" font-size="9.3" text-anchor="middle" fill="#2e2e2e" transform="rotate(-90 332.00 482.50)" dominant-baseline="central">225</text>
<line x1="347.50" y1="554.20" x2="359.20" y2="554.20" stroke="#707070" stroke-width="0.6" />
<path d="M347.50,554.20 L351.70,553.30 L351.70,555.10 Z" fill="#1a1a1a"/>
<path d="M359.20,554.20 L355.00,555.10 L355.00,553.30 Z" fill="#1a1a1a"/>
<line x1="347.50" y1="548.30" x2="347.50" y2="554.20" stroke="#707070" stroke-width="0.6" />
<line x1="359.20" y1="548.30" x2="359.20" y2="554.20" stroke="#707070" stroke-width="0.6" />
<text x="352.90" y="565.80" font-size="9.3" text-anchor="middle" fill="#2e2e2e" >G1/2</text>
<circle cx="493.50" cy="411.80" r="66.70" fill="none" stroke="#505050" stroke-width="1.0"/>
<circle cx="493.50" cy="403.23" r="1.20" fill="#444" stroke="#383838" stroke-width="0"/>
<circle cx="501.65" cy="409.15" r="1.20" fill="#444" stroke="#383838" stroke-width="0"/>
<circle cx="498.54" cy="418.73" r="1.20" fill="#444" stroke="#383838" stroke-width="0"/>
<circle cx="488.46" cy="418.73" r="1.20" fill="#444" stroke="#383838" stroke-width="0"/>
<circle cx="485.35" cy="409.15" r="1.20" fill="#444" stroke="#383838" stroke-width="0"/>
<circle cx="493.50" cy="394.66" r="1.20" fill="#444" stroke="#383838" stroke-width="0"/>
<circle cx="503.57" cy="397.93" r="1.20" fill="#444" stroke="#383838" stroke-width="0"/>
<circle cx="509.80" cy="406.50" r="1.20" fill="#444" stroke="#383838" stroke-width="0"/>
<circle cx="509.80" cy="417.10" r="1.20" fill="#444" stroke="#383838" stroke-width="0"/>
<circle cx="503.57" cy="425.67" r="1.20" fill="#444" stroke="#383838" stroke-width="0"/>
<circle cx="493.50" cy="428.94" r="1.20" fill="#444" stroke="#383838" stroke-width="0"/>
<circle cx="483.43" cy="425.67" r="1.20" fill="#444" stroke="#383838" stroke-width="0"/>
<circle cx="477.20" cy="417.10" r="1.20" fill="#444" stroke="#383838" stroke-width="0"/>
<circle cx="477.20" cy="406.50" r="1.20" fill="#444" stroke="#383838" stroke-width="0"/>
<circle cx="483.43" cy="397.93" r="1.20" fill="#444" stroke="#383838" stroke-width="0"/>
<circle cx="493.50" cy="386.09" r="1.20" fill="#444" stroke="#383838" stroke-width="0"/>
<circle cx="503.96" cy="388.31" r="1.20" fill="#444" stroke="#383838" stroke-width="0"/>
<circle cx="512.61" cy="394.60" r="1.20" fill="#444" stroke="#383838" stroke-width="0"/>
<circle cx="517.95" cy="403.86" r="1.20" fill="#444" stroke="#383838" stroke-width="0"/>
<circle cx="519.07" cy="414.49" r="1.20" fill="#444" stroke="#383838" stroke-width="0"/>
<circle cx="515.77" cy="424.66" r="1.20" fill="#444" stroke="#383838" stroke-width="0"/>
<circle cx="508.61" cy="432.60" r="1.20" fill="#444" stroke="#383838" stroke-width="0"/>
<circle cx="498.85" cy="436.95" r="1.20" fill="#444" stroke="#383838" stroke-width="0"/>
<circle cx="488.15" cy="436.95" r="1.20" fill="#444" stroke="#383838" stroke-width="0"/>
<circle cx="478.39" cy="432.60" r="1.20" fill="#444" stroke="#383838" stroke-width="0"/>
<circle cx="471.23" cy="424.66" r="1.20" fill="#444" stroke="#383838" stroke-width="0"/>
<circle cx="467.93" cy="414.49" r="1.20" fill="#444" stroke="#383838" stroke-width="0"/>
<circle cx="469.05" cy="403.86" r="1.20" fill="#444" stroke="#383838" stroke-width="0"/>
<circle cx="474.39" cy="394.60" r="1.20" fill="#444" stroke="#383838" stroke-width="0"/>
<circle cx="483.04" cy="388.31" r="1.20" fill="#444" stroke="#383838" stroke-width="0"/>
<circle cx="493.50" cy="377.52" r="1.20" fill="#444" stroke="#383838" stroke-width="0"/>
<circle cx="504.09" cy="379.20" r="1.20" fill="#444" stroke="#383838" stroke-width="0"/>
<circle cx="513.65" cy="384.07" r="1.20" fill="#444" stroke="#383838" stroke-width="0"/>
<circle cx="521.23" cy="391.65" r="1.20" fill="#444" stroke="#383838" stroke-width="0"/>
<circle cx="526.10" cy="401.21" r="1.20" fill="#444" stroke="#383838" stroke-width="0"/>
<circle cx="527.78" cy="411.80" r="1.20" fill="#444" stroke="#383838" stroke-width="0"/>
<circle cx="526.10" cy="422.39" r="1.20" fill="#444" stroke="#383838" stroke-width="0"/>
<circle cx="521.23" cy="431.95" r="1.20" fill="#444" stroke="#383838" stroke-width="0"/>
<circle cx="513.65" cy="439.53" r="1.20" fill="#444" stroke="#383838" stroke-width="0"/>
<circle cx="504.09" cy="444.40" r="1.20" fill="#444" stroke="#383838" stroke-width="0"/>
<circle cx="493.50" cy="446.08" r="1.20" fill="#444" stroke="#383838" stroke-width="0"/>
<circle cx="482.91" cy="444.40" r="1.20" fill="#444" stroke="#383838" stroke-width="0"/>
<circle cx="473.35" cy="439.53" r="1.20" fill="#444" stroke="#383838" stroke-width="0"/>
<circle cx="465.77" cy="431.95" r="1.20" fill="#444" stroke="#383838" stroke-width="0"/>
<circle cx="460.90" cy="422.39" r="1.20" fill="#444" stroke="#383838" stroke-width="0"/>
<circle cx="459.22" cy="411.80" r="1.20" fill="#444" stroke="#383838" stroke-width="0"/>
<circle cx="460.90" cy="401.21" r="1.20" fill="#444" stroke="#383838" stroke-width="0"/>
<circle cx="465.77" cy="391.65" r="1.20" fill="#444" stroke="#383838" stroke-width="0"/>
<circle cx="473.35" cy="384.07" r="1.20" fill="#444" stroke="#383838" stroke-width="0"/>
<circle cx="482.91" cy="379.20" r="1.20" fill="#444" stroke="#383838" stroke-width="0"/>
<circle cx="493.50" cy="368.95" r="1.20" fill="#444" stroke="#383838" stroke-width="0"/>
<circle cx="504.16" cy="370.30" r="1.20" fill="#444" stroke="#383838" stroke-width="0"/>
<circle cx="514.14" cy="374.25" r="1.20" fill="#444" stroke="#383838" stroke-width="0"/>
<circle cx="522.83" cy="380.56" r="1.20" fill="#444" stroke="#383838" stroke-width="0"/>
<circle cx="529.68" cy="388.84" r="1.20" fill="#444" stroke="#383838" stroke-width="0"/>
<circle cx="534.25" cy="398.56" r="1.20" fill="#444" stroke="#383838" stroke-width="0"/>
<circle cx="536.27" cy="409.11" r="1.20" fill="#444" stroke="#383838" stroke-width="0"/>
<circle cx="535.59" cy="419.83" r="1.20" fill="#444" stroke="#383838" stroke-width="0"/>
<circle cx="532.27" cy="430.04" r="1.20" fill="#444" stroke="#383838" stroke-width="0"/>
<circle cx="526.52" cy="439.11" r="1.20" fill="#444" stroke="#383838" stroke-width="0"/>
<circle cx="518.69" cy="446.47" r="1.20" fill="#444" stroke="#383838" stroke-width="0"/>
<circle cx="509.27" cy="451.64" r="1.20" fill="#444" stroke="#383838" stroke-width="0"/>
<circle cx="498.87" cy="454.31" r="1.20" fill="#444" stroke="#383838" stroke-width="0"/>
<circle cx="488.13" cy="454.31" r="1.20" fill="#444" stroke="#383838" stroke-width="0"/>
<circle cx="477.73" cy="451.64" r="1.20" fill="#444" stroke="#383838" stroke-width="0"/>
<circle cx="468.31" cy="446.47" r="1.20" fill="#444" stroke="#383838" stroke-width="0"/>
<circle cx="460.48" cy="439.11" r="1.20" fill="#444" stroke="#383838" stroke-width="0"/>
<circle cx="454.73" cy="430.04" r="1.20" fill="#444" stroke="#383838" stroke-width="0"/>
<circle cx="451.41" cy="419.83" r="1.20" fill="#444" stroke="#383838" stroke-width="0"/>
<circle cx="450.73" cy="409.11" r="1.20" fill="#444" stroke="#383838" stroke-width="0"/>
<circle cx="452.75" cy="398.56" r="1.20" fill="#444" stroke="#383838" stroke-width="0"/>
<circle cx="457.32" cy="388.84" r="1.20" fill="#444" stroke="#383838" stroke-width="0"/>
<circle cx="464.17" cy="380.56" r="1.20" fill="#444" stroke="#383838" stroke-width="0"/>
<circle cx="472.86" cy="374.25" r="1.20" fill="#444" stroke="#383838" stroke-width="0"/>
<circle cx="482.84" cy="370.30" r="1.20" fill="#444" stroke="#383838" stroke-width="0"/>
<circle cx="493.50" cy="360.38" r="1.20" fill="#444" stroke="#383838" stroke-width="0"/>
<circle cx="504.19" cy="361.50" r="1.20" fill="#444" stroke="#383838" stroke-width="0"/>
<circle cx="514.41" cy="364.83" r="1.20" fill="#444" stroke="#383838" stroke-width="0"/>
<circle cx="523.72" cy="370.20" r="1.20" fill="#444" stroke="#383838" stroke-width="0"/>
<circle cx="531.71" cy="377.39" r="1.20" fill="#444" stroke="#383838" stroke-width="0"/>
<circle cx="538.03" cy="386.09" r="1.20" fill="#444" stroke="#383838" stroke-width="0"/>
<circle cx="542.40" cy="395.91" r="1.20" fill="#444" stroke="#383838" stroke-width="0"/>
<circle cx="544.64" cy="406.43" r="1.20" fill="#444" stroke="#383838" stroke-width="0"/>
<circle cx="544.64" cy="417.17" r="1.20" fill="#444" stroke="#383838" stroke-width="0"/>
<circle cx="542.40" cy="427.69" r="1.20" fill="#444" stroke="#383838" stroke-width="0"/>
<circle cx="538.03" cy="437.51" r="1.20" fill="#444" stroke="#383838" stroke-width="0"/>
<circle cx="531.71" cy="446.21" r="1.20" fill="#444" stroke="#383838" stroke-width="0"/>
<circle cx="523.72" cy="453.40" r="1.20" fill="#444" stroke="#383838" stroke-width="0"/>
<circle cx="514.41" cy="458.77" r="1.20" fill="#444" stroke="#383838" stroke-width="0"/>
<circle cx="504.19" cy="462.10" r="1.20" fill="#444" stroke="#383838" stroke-width="0"/>
<circle cx="493.50" cy="463.22" r="1.20" fill="#444" stroke="#383838" stroke-width="0"/>
<circle cx="482.81" cy="462.10" r="1.20" fill="#444" stroke="#383838" stroke-width="0"/>
<circle cx="472.59" cy="458.77" r="1.20" fill="#444" stroke="#383838" stroke-width="0"/>
<circle cx="463.28" cy="453.40" r="1.20" fill="#444" stroke="#383838" stroke-width="0"/>
<circle cx="455.29" cy="446.21" r="1.20" fill="#444" stroke="#383838" stroke-width="0"/>
<circle cx="448.97" cy="437.51" r="1.20" fill="#444" stroke="#383838" stroke-width="0"/>
<circle cx="444.60" cy="427.69" r="1.20" fill="#444" stroke="#383838" stroke-width="0"/>
<circle cx="442.36" cy="417.17" r="1.20" fill="#444" stroke="#383838" stroke-width="0"/>
<circle cx="442.36" cy="406.43" r="1.20" fill="#444" stroke="#383838" stroke-width="0"/>
<circle cx="444.60" cy="395.91" r="1.20" fill="#444" stroke="#383838" stroke-width="0"/>
<circle cx="448.97" cy="386.09" r="1.20" fill="#444" stroke="#383838" stroke-width="0"/>
<circle cx="455.29" cy="377.39" r="1.20" fill="#444" stroke="#383838" stroke-width="0"/>
<circle cx="463.28" cy="370.20" r="1.20" fill="#444" stroke="#383838" stroke-width="0"/>
<circle cx="472.59" cy="364.83" r="1.20" fill="#444" stroke="#383838" stroke-width="0"/>
<circle cx="482.81" cy="361.50" r="1.20" fill="#444" stroke="#383838" stroke-width="0"/>
<path d="M548.50,372.50 L552.10,368.61 L553.33,370.31 Z" fill="#1a1a1a"/>
<line x1="548.50" y1="372.50" x2="579.00" y2="350.50" stroke="#707070" stroke-width="0.6" />
<text x="567.50" y="354.30" font-size="9.3" text-anchor="middle" fill="#2e2e2e" transform="rotate(-35.8 567.50 354.30)" >Ø250</text>
<text x="493.50" y="497.70" font-size="9.3" text-anchor="middle" fill="#2e2e2e" >G1/2</text>
<line x1="479.30" y1="501.40" x2="487.50" y2="501.40" stroke="#707070" stroke-width="0.6" />
<path d="M487.50,501.40 L483.00,502.35 L483.00,500.45 Z" fill="#1a1a1a"/>
<line x1="499.20" y1="501.40" x2="507.30" y2="501.40" stroke="#707070" stroke-width="0.6" />
<path d="M499.20,501.40 L503.70,500.45 L503.70,502.35 Z" fill="#1a1a1a"/>
<line x1="487.50" y1="501.40" x2="487.50" y2="509.20" stroke="#707070" stroke-width="0.6" />
<line x1="499.20" y1="501.40" x2="499.20" y2="509.20" stroke="#707070" stroke-width="0.6" />
<rect x="487.30" y="509.20" width="12.50" height="7.60" rx="0" fill="none" stroke="#383838" stroke-width="0.8"/>
<rect x="491.00" y="513.30" width="4.00" height="3.50" rx="0" fill="none" stroke="#383838" stroke-width="0.6"/>
<path d="M490.8,520.3 Q490.8,516.8 493.6,516.8 Q496.4,516.8 496.4,520.3" fill="none" stroke="#383838" stroke-width="0.6" />
<rect x="485.00" y="520.30" width="17.10" height="11.00" rx="0" fill="none" stroke="#383838" stroke-width="0.8"/>
<rect x="426.00" y="531.50" width="134.70" height="4.50" rx="0.8" fill="none" stroke="#383838" stroke-width="0.8"/>
<line x1="440.00" y1="537.00" x2="545.30" y2="537.00" stroke="#444" stroke-width="1.3" stroke-dasharray="1.5 0.5"/>
<line x1="499.80" y1="509.30" x2="590.70" y2="509.30" stroke="#707070" stroke-width="0.6" />
<line x1="560.70" y1="536.00" x2="590.70" y2="536.00" stroke="#707070" stroke-width="0.6" />
<line x1="590.40" y1="509.30" x2="590.40" y2="536.00" stroke="#707070" stroke-width="0.6" />
<path d="M590.40,509.30 L591.45,514.50 L589.35,514.50 Z" fill="#1a1a1a"/>
<path d="M590.40,536.00 L589.35,530.80 L591.45,530.80 Z" fill="#1a1a1a"/>
<text x="585.50" y="522.00" font-size="9.3" text-anchor="middle" fill="#2e2e2e" transform="rotate(-90 585.50 522.00)" dominant-baseline="central">50</text>
<line x1="412.00" y1="523.30" x2="412.00" y2="553.30" stroke="#707070" stroke-width="0.6" />
<path d="M412.00,531.20 L410.95,526.00 L413.05,526.00 Z" fill="#1a1a1a"/>
<path d="M412.00,536.20 L413.05,541.40 L410.95,541.40 Z" fill="#1a1a1a"/>
<line x1="412.00" y1="531.20" x2="425.80" y2="531.20" stroke="#707070" stroke-width="0.6" />
<line x1="412.00" y1="536.20" x2="425.80" y2="536.20" stroke="#707070" stroke-width="0.6" />
<text x="407.00" y="546.70" font-size="9.3" text-anchor="middle" fill="#2e2e2e" transform="rotate(-90 407.00 546.70)" dominant-baseline="central">8</text>
</svg>
</body></html>
